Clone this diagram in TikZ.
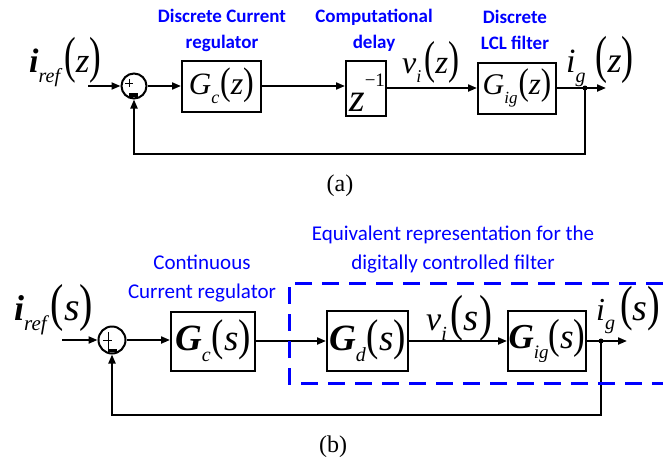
\documentclass[tikz,border=0pt]{standalone}
\usepackage{fontspec}
\usepackage{graphicx}
\setmainfont{Liberation Serif}
\newfontfamily\mfont{Liberation Serif Italic}
\newfontfamily\mbfont{Liberation Serif Bold Italic}
\newfontfamily\lblfont{Carlito}
\usetikzlibrary{arrows.meta,calc}
% [#1 paren scale] #2 base size, #3 base, #4 sub size, #5 sub, #6 gap, #7 arg size, #8 arg
\newcommand{\SigX}[8][1.2]{{\fontsize{#2}{#2}\selectfont #3\raisebox{-0.3em}{\fontsize{#4}{#4}\selectfont\mfont #5}}\hspace{#6}{\fontsize{#7}{#7}\selectfont\rmfamily\upshape\scalebox{1}[#1]{(}{\mfont #8}\scalebox{1}[#1]{)}}}
\begin{document}
\begin{tikzpicture}[x=1pt,y=-1pt,
  wire/.style={line width=2pt},
  arr/.style={wire,-{Triangle[length=9pt,width=7pt]}},
  blk/.style={draw,line width=2pt,inner sep=0pt,anchor=center},
  sumnode/.style={draw,circle,line width=2pt,minimum size=25pt,inner sep=0pt},
  bluelbl/.style={text=blue,font=\lblfont\bfseries\fontsize{19}{26}\selectfont,align=center,inner sep=0pt},
  bluelblb/.style={text=blue,font=\lblfont\fontsize{21}{29}\selectfont,align=center,inner sep=0pt},
  sig/.style={inner sep=0pt,anchor=base west},
  dot/.style={circle,fill,inner sep=0pt,minimum size=5pt}]
\useasboundingbox (0,0) rectangle (663,466);
% ---------------- (a) ----------------
\coordinate (inA) at (88,86);
\node[sumnode] (sumA) at (134,86) {};
\node[blk,minimum width=79pt,minimum height=51pt] (GcA) at (221.5,86) {\SigX{31}{\mfont G}{18}{c}{1pt}{32}{z}};
\node[blk,minimum width=40pt,minimum height=55pt] (delay) at (366,88) {};
\node[inner sep=0pt,anchor=base west] (zinv) at (349,111) {\fontsize{40}{40}\selectfont{\mfont z}\raisebox{0.62em}{\fontsize{19}{19}\selectfont\rmfamily\upshape \char"2212 1}};
\node[blk,minimum width=78pt,minimum height=51pt] (GigA) at (517,88) {\SigX{30}{\mfont G}{17}{ig}{1pt}{31}{z}};
\node[dot] (dotA) at (585,88) {};
\coordinate (outA) at (606,88);
\draw[arr] (inA) -- (sumA);
\draw[arr] (sumA) -- (GcA);
\draw[arr] (GcA.east) -- (GcA.east -| delay.west);
\draw[arr] (delay.east) -- (GigA.west);
\draw[arr] (GigA.east) -- (outA);
\draw[arr] (dotA.center) -- ++(0,66) -| (sumA.south);
% signs
\draw[line width=1pt] ($(sumA.center)+(-9,-3)$) -- ($(sumA.center)+(-1,-3)$)
  ($(sumA.center)+(-5,-7)$) -- ($(sumA.center)+(-5,1)$);
\fill ($(sumA.center)+(-5,7)$) rectangle ($(sumA.center)+(4,11)$);
% labels
\node[sig] (irefA) at (29,72) {\SigX[1.45]{34}{\mbfont i}{20}{ref}{4pt}{35}{z}};
\node[sig] (viA) at (402,73) {\SigX[1.4]{32}{\mfont v}{18}{i}{3pt}{33}{z}};
\node[sig] (igA) at (566,72) {\SigX[1.45]{34}{\mfont i}{20}{g}{10pt}{36}{z}};
\node[bluelbl] (lblGcA) at (222,30) {Discrete Current\\regulator};
\node[bluelbl] (lblDelay) at (374,30) {Computational\\delay};
\node[bluelbl] (lblGigA) at (515,30) {Discrete\\LCL filter};
\node[font=\fontsize{24}{24}\selectfont] (capA) at (340,186) {(a)};
% ---------------- (b) ----------------
\coordinate (inB) at (62,340);
\node[sumnode,minimum size=27pt] (sumB) at (112,340) {};
\node[blk,minimum width=84pt,minimum height=59pt] (GcB) at (213,341) {\SigX{37}{\mbfont G}{20}{c}{1pt}{37}{s}};
\node[blk,minimum width=81pt,minimum height=60pt] (GdB) at (367.5,341) {\SigX{37}{\mbfont G}{20}{d}{1pt}{37}{s}};
\node[blk,minimum width=78pt,minimum height=60pt] (GigB) at (547,341) {\SigX{35}{\mbfont G}{19}{ig}{0pt}{35}{s}};
\node[dot] (dotB) at (601,341) {};
\coordinate (outB) at (627,341);
\draw[arr] (inB) -- (sumB);
\draw[arr] (sumB.east) -- (sumB.east -| GcB.west);
\draw[arr] (GcB) -- (GdB);
\draw[arr] (GdB) -- (GigB);
\draw[arr] (GigB.east) -- (outB);
\draw[arr] (dotB.center) -- ++(0,74) -| (sumB.south);
\draw[line width=1pt] ($(sumB.center)+(-9,0)$) -- ($(sumB.center)+(0,0)$)
  ($(sumB.center)+(-4,-8)$) -- ($(sumB.center)+(-4,10)$);
\fill ($(sumB.center)+(-4,9)$) rectangle ($(sumB.center)+(5,12)$);
\draw[blue,line width=3pt,dash pattern=on 17pt off 10pt] (663,283) -- (289,283) -- (289,383) -- (663,383);
\node[sig] (irefB) at (14,320) {\SigX[1.3]{36}{\mbfont i}{21}{ref}{4pt}{40}{s}};
\node[sig] (viB) at (426,330) {\SigX[1.3]{34}{\mfont v}{20}{i}{4pt}{39}{s}};
\node[sig] (igB) at (596,320) {\SigX[1.3]{32}{\mfont i}{20}{g}{5pt}{38}{s}};
\node[bluelblb] (lblGcB) at (202,279) {Continuous\\Current regulator};
\node[bluelblb] (lblEq) at (453,250) {Equivalent representation for the\\digitally controlled filter};
\node[font=\fontsize{24}{24}\selectfont] (capB) at (333,447) {(b)};
\end{tikzpicture}
\end{document}
